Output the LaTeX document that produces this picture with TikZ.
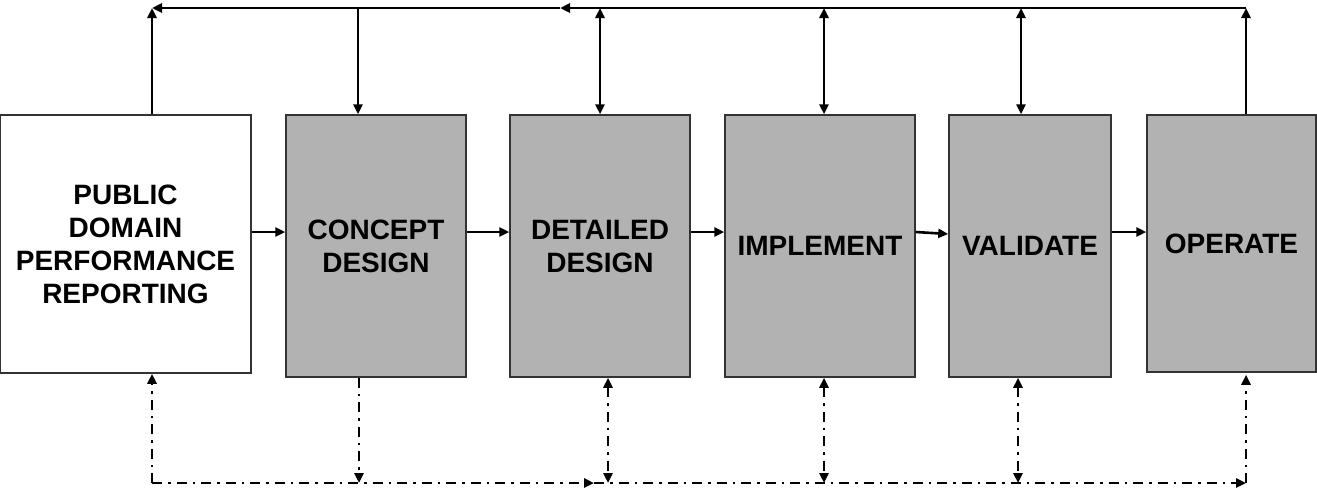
\documentclass[tikz,border=0pt]{standalone}
\usepackage{fontspec}
\setmainfont{Liberation Sans}
\usetikzlibrary{arrows.meta}
\begin{document}
\begin{tikzpicture}[x=1pt,y=-1pt,
  boxstyle/.style={draw=black!80, line width=1.5pt, fill=black!30, rectangle,
    inner sep=0pt, align=center,
    font=\fontsize{28}{33}\selectfont\bfseries},
  whitebox/.style={boxstyle, fill=white},
  arr/.style={line width=2.6pt, -{Triangle[length=10pt,width=9pt]}},
  darr/.style={line width=2.6pt, {Triangle[length=10pt,width=9pt]}-{Triangle[length=10pt,width=9pt]}},
  bus/.style={line width=2.6pt},
  dd/.style={line width=2.6pt, dash pattern=on 10pt off 6pt on 2.5pt off 6pt},
]
\useasboundingbox (0,0) rectangle (1317,496);

% boxes
\node[whitebox, minimum width=251pt, minimum height=258pt] (public) at (125.5,244) {PUBLIC\\DOMAIN\\PERFORMANCE\\REPORTING};
\node[boxstyle, minimum width=180pt, minimum height=262pt] (concept) at (376,246) {CONCEPT\\DESIGN};
\node[boxstyle, minimum width=180pt, minimum height=262pt] (detailed) at (600,246) {DETAILED\\DESIGN};
\node[boxstyle, minimum width=190pt, minimum height=262pt] (implement) at (820,246) {IMPLEMENT};
\node[boxstyle, minimum width=162pt, minimum height=262pt] (validate) at (1030,246) {VALIDATE};
\node[boxstyle, minimum width=169pt, minimum height=257pt] (operate) at (1231.5,243.5) {OPERATE};

% horizontal flow arrows
\draw[arr] ([yshift=12pt]public.east) -- ([yshift=14pt]concept.west);
\draw[arr] ([yshift=14pt]concept.east) -- ([yshift=14pt]detailed.west);
\draw[arr] ([yshift=14pt]detailed.east) -- ([yshift=14pt]implement.west);
\draw[arr] ([yshift=14pt]implement.east) -- ([yshift=12pt]validate.west);
\draw[arr] ([yshift=14pt]validate.east) -- ([yshift=11.5pt]operate.west);

% top bus
\coordinate (tL) at (152,8);
\coordinate (tM) at (560,8);
\coordinate (tR) at (1246,8);
\coordinate (tC) at (358,8);
\coordinate (tD) at (600,8);
\coordinate (tI) at (824,8);
\coordinate (tV) at (1021,8);
\draw[bus, -{Triangle[length=10pt,width=9pt]}] (tR) -- (tM);
\draw[bus, -{Triangle[length=10pt,width=9pt]}] (tM) -- (tL);
\draw[arr] (tL |- public.north) -- (tL);
\draw[arr] (tR |- operate.north) -- (tR);
\draw[arr] (tC) -- (tC |- concept.north);
\draw[darr] (tD) -- (tD |- detailed.north);
\draw[darr] (tI) -- (tI |- implement.north);
\draw[darr] (tV) -- (tV |- validate.north);

% bottom bus
\coordinate (bL) at (152,483);
\coordinate (bM) at (594,483);
\coordinate (bR) at (1246,483);
\coordinate (bC) at (359,483);
\coordinate (bD) at (608,483);
\coordinate (bI) at (824,483);
\coordinate (bV) at (1018,483);
\draw[dd, -{Triangle[length=10pt,width=9pt]}] (bL) -- (bM);
\draw[dd, -{Triangle[length=10pt,width=9pt]}] (bM) -- (bR);
\draw[dd, -{Triangle[length=10pt,width=9pt]}] (bL) -- (bL |- public.south);
\draw[dd, -{Triangle[length=10pt,width=9pt]}] (bR) -- ([yshift=-2pt]bR |- operate.south);
\draw[dd, -{Triangle[length=10pt,width=9pt]}] (bC |- concept.south) -- (bC);
\draw[dd, {Triangle[length=10pt,width=9pt]}-{Triangle[length=10pt,width=9pt]}] (bD |- detailed.south) -- (bD);
\draw[dd, {Triangle[length=10pt,width=9pt]}-{Triangle[length=10pt,width=9pt]}] (bI |- implement.south) -- (bI);
\draw[dd, {Triangle[length=10pt,width=9pt]}-{Triangle[length=10pt,width=9pt]}] (bV |- validate.south) -- (bV);
\end{tikzpicture}
\end{document}
